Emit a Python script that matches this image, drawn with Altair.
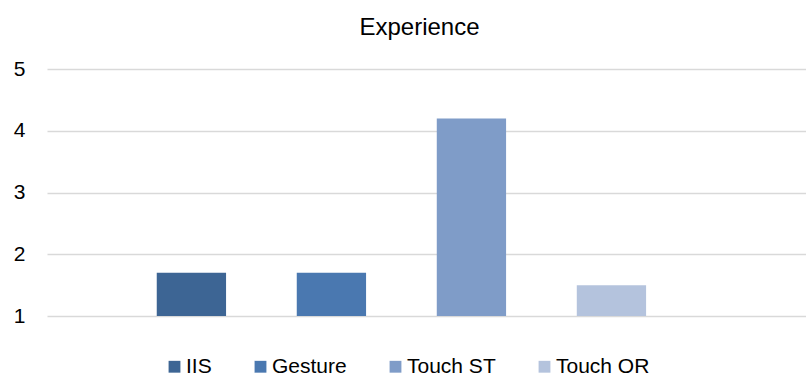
import altair as alt
import pandas as pd

# Mean "Experience" rating per interaction technique
techniques = ["IIS", "Gesture", "Touch ST", "Touch OR"]
ratings = [1.7, 1.7, 4.2, 1.5]
bar_colors = ["#3D6594", "#4A78B0", "#7F9CC8", "#B4C3DD"]
y_ticks = [1, 2, 3, 4, 5]

df = pd.DataFrame({"technique": techniques, "rating": ratings})

FONT = "Liberation Sans"

chart = (
    alt.Chart(df)
    .mark_bar()
    .encode(
        x=alt.X(
            "technique:N",
            sort=techniques,
            axis=None,
            scale=alt.Scale(paddingInner=0.505, paddingOuter=0.963, align=0.407),
        ),
        y=alt.Y(
            "rating:Q",
            scale=alt.Scale(domain=[1, 5], zero=False, nice=False),
            axis=alt.Axis(
                values=y_ticks,
                title=None,
                domain=False,
                ticks=False,
                labelPadding=22,
                labelFontSize=21,
                labelFont=FONT,
                labelColor="#000000",
                gridColor="#D9D9D9",
                gridWidth=1.3,
            ),
        ),
        y2=alt.datum(1),
        color=alt.Color(
            "technique:N",
            sort=techniques,
            scale=alt.Scale(domain=techniques, range=bar_colors),
            legend=alt.Legend(
                title=None,
                orient="none",
                direction="horizontal",
                legendX=117,
                legendY=287,
                symbolType="square",
                symbolSize=140,
                symbolStrokeWidth=0,
                labelOffset=1,
                columnPadding=38,
                labelFontSize=21,
                labelFont=FONT,
                labelColor="#000000",
            ),
        ),
    )
    .properties(
        width=759,
        height=247,
        autosize=alt.AutoSizeParams(type="none"),
        padding={"left": 47, "top": 69, "right": 0, "bottom": 62},
        title=alt.TitleParams(
            "Experience",
            font=FONT,
            fontSize=24,
            fontWeight="normal",
            color="#000000",
            anchor="middle",
            offset=18,
            dx=-7,
        ),
    )
    .configure_view(stroke=None)
)

chart.save("out.html", embed_options={"renderer": "svg", "actions": False})
